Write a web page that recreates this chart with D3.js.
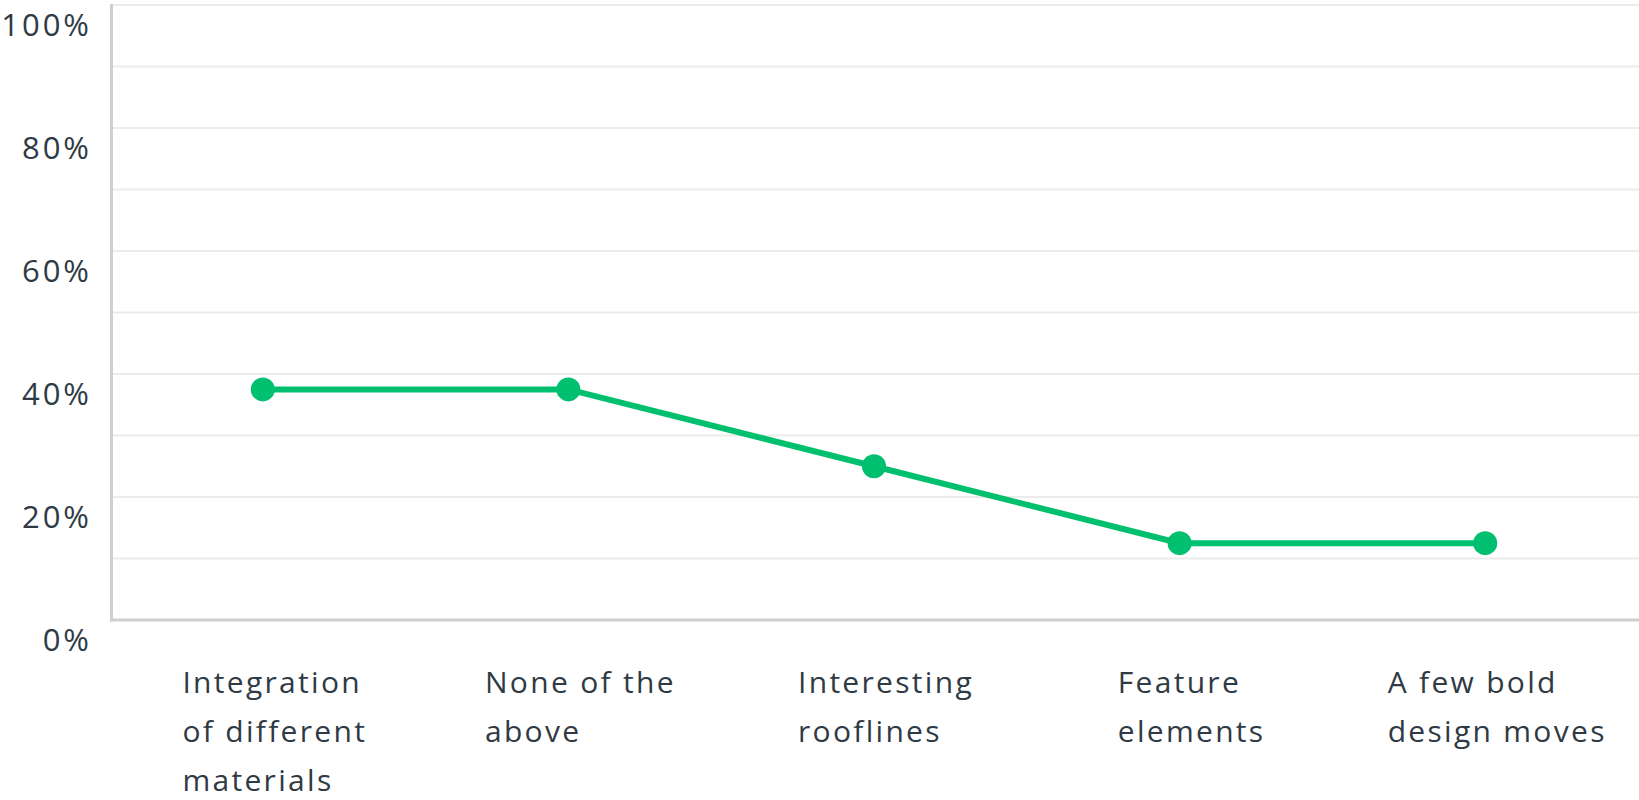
<!DOCTYPE html>
<html>
<head>
<meta charset="utf-8">
<script src="https://cdn.jsdelivr.net/npm/d3@7"></script>
<style>
  body { margin: 0; background: #fff; }
  svg { display: block; font-family: 'Open Sans', sans-serif; }
</style>
</head>
<body>
<svg width="1639" height="800"></svg>
<script>
// answer options, shown under the x axis
const categories = ['Integration of different materials', 'None of the above', 'Interesting rooflines', 'Feature elements', 'A few bold design moves']
// label lines as they break in the chart
const labelLines = [['Integration', 'of different', 'materials'], ['None of the', 'above'], ['Interesting', 'rooflines'], ['Feature', 'elements'], ['A few bold', 'design moves']]
// share of respondents, percent
const values = [37.5, 37.5, 25, 12.5, 12.5]
const yTicks = [0, 20, 40, 60, 80, 100]
const gridTicks = [0, 10, 20, 30, 40, 50, 60, 70, 80, 90, 100]

let svg = d3.select('svg')
let width = +svg.attr('width')
let plotLeft = 110, plotTop = 5, plotBottom = 620

let x = d3.scaleBand().domain(categories).range([plotLeft, width - 1])
let y = d3.scaleLinear().domain([0, 100]).range([plotBottom, plotTop])

// grid lines
svg.append('g')
  .selectAll('line')
  .data(gridTicks)
  .enter()
  .append('line')
  .attr('x1', plotLeft)
  .attr('x2', width)
  .attr('y1', d => y(d))
  .attr('y2', d => y(d))
  .attr('stroke', '#ebebeb')
  .attr('stroke-width', 2)

// axis lines
svg.append('line')
  .attr('x1', plotLeft + 1.5).attr('x2', plotLeft + 1.5)
  .attr('y1', plotTop - 1).attr('y2', plotBottom + 1.5)
  .attr('stroke', '#cfcfcf').attr('stroke-width', 3)
svg.append('line')
  .attr('x1', plotLeft).attr('x2', width)
  .attr('y1', plotBottom).attr('y2', plotBottom)
  .attr('stroke', '#cfcfcf').attr('stroke-width', 3)

// y labels sit just below their grid line
svg.append('g')
  .selectAll('text')
  .data(yTicks)
  .enter()
  .append('text')
  .attr('x', 92)
  .attr('y', d => y(d) + 31)
  .attr('text-anchor', 'end')
  .attr('fill', '#2f3a44')
  .style('font-size', '31px')
  .style('letter-spacing', '3px')
  .text(d => d + '%')

// x labels: left aligned lines, block centred a bit right of the point
let lab = svg.append('g')
  .selectAll('text')
  .data(categories)
  .enter()
  .append('text')
  .attr('fill', '#2f3a44')
  .style('font-size', '30px')
  .style('letter-spacing', '2.3px')
lab.each(function (d, i) {
  let t = d3.select(this)
  labelLines[i].forEach((s, j) => {
    t.append('tspan').attr('y', 693 + j * 49).text(s)
  })
  let w = d3.max(t.selectAll('tspan').nodes(), n => n.getComputedTextLength())
  let cx = x(d) + x.bandwidth() / 2 + 12
  t.selectAll('tspan').attr('x', cx - w / 2)
})

// line and markers
let line = d3.line()
  .x((d, i) => x(categories[i]) + x.bandwidth() / 2)
  .y(d => y(d))
svg.append('path')
  .datum(values)
  .attr('d', line)
  .attr('fill', 'none')
  .attr('stroke', '#00bf6f')
  .attr('stroke-width', 6)

svg.append('g')
  .selectAll('circle')
  .data(values)
  .enter()
  .append('circle')
  .attr('cx', (d, i) => x(categories[i]) + x.bandwidth() / 2)
  .attr('cy', d => y(d))
  .attr('r', 12)
  .attr('fill', '#00bf6f')
</script>
</body>
</html>
